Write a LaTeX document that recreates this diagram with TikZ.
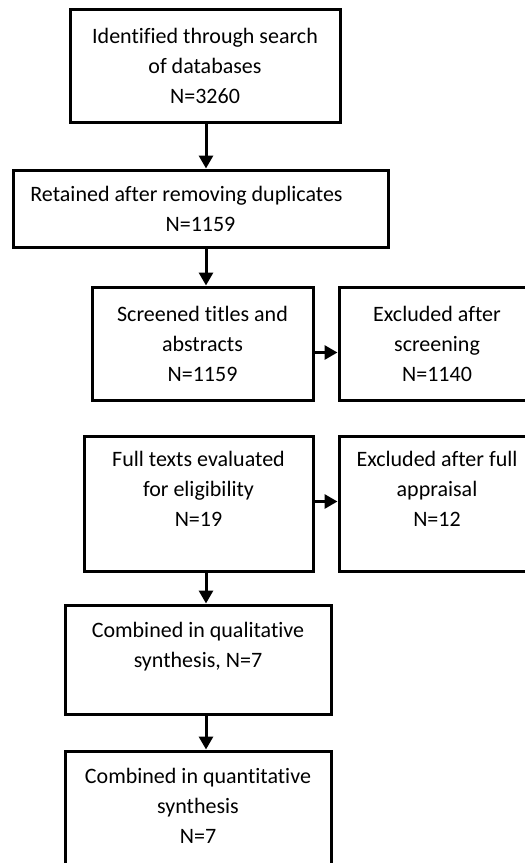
\documentclass[tikz,border=0pt]{standalone}
\usepackage{fontspec}
\setmainfont{Carlito}[Ligatures=NoCommon]
\usetikzlibrary{arrows.meta}
\def \identifiedStr {Identified through search\\of databases\\N=3260}
\def \retainedStr {Retained after removing duplicates\hspace*{28pt}\\N=1159}
\def \screenedStr {Screened titles and\\abstracts\\N=1159}
\def \excludedScreenStr {Excluded after\\screening\\N=1140}
\def \fullTextStr {Full texts evaluated\\for eligibility\\N=19\\\mbox{}}
\def \excludedFullStr {Excluded after full\\appraisal\\N=12\\\mbox{}}
\def \qualitativeStr {Combined in qualitative\\synthesis, N=7\\\mbox{}}
\def \quantitativeStr {Combined in quantitative\\synthesis\\N=7\\\mbox{}}

\begin{document}
\begin{tikzpicture}[x=1pt, y=-1pt,
  box/.style={draw=black, line width=3pt, inner sep=0pt, align=center,
    font=\fontsize{22}{30}\selectfont},
  flow/.style={line width=3pt, -{Triangle[width=14pt,length=13pt]}}]

\clip (0,0) rectangle (525,863);
\fill[white] (0,0) rectangle (525,863);

\node[box, minimum width=270pt, minimum height=113pt] (ident) at (205,66) {\identifiedStr};
\node[box, minimum width=375pt, minimum height=77pt] (retained) at (200.5,208.5) {\retainedStr};
\node[box, minimum width=221pt, minimum height=113pt] (screen) at (202.5,343.5) {\screenedStr};
\node[box, minimum width=196pt, minimum height=113pt] (exclScreen) at (437,343.5) {\excludedScreenStr};
\node[box, minimum width=229pt, minimum height=135pt] (full) at (198.5,503.5) {\fullTextStr};
\node[box, minimum width=196pt, minimum height=135pt] (exclFull) at (437,503.5) {\excludedFullStr};
\node[box, minimum width=266pt, minimum height=109pt] (qual) at (198,659.5) {\qualitativeStr};
\node[box, minimum width=266pt, minimum height=139pt] (quant) at (198,820.5) {\quantitativeStr};

\coordinate (axis) at (206,0);

\draw[flow] (axis |- ident.south) -- (axis |- retained.north);
\draw[flow] (axis |- retained.south) -- (axis |- screen.north);
\draw[flow] ([yshift=-9pt]screen.east) -- ([yshift=-9pt]exclScreen.west);
\draw[flow] ([yshift=2pt]full.east) -- ([yshift=2pt]exclFull.west);
\draw[flow] (axis |- full.south) -- (axis |- qual.north);
\draw[flow] (axis |- qual.south) -- (axis |- quant.north);

\end{tikzpicture}
\end{document}
